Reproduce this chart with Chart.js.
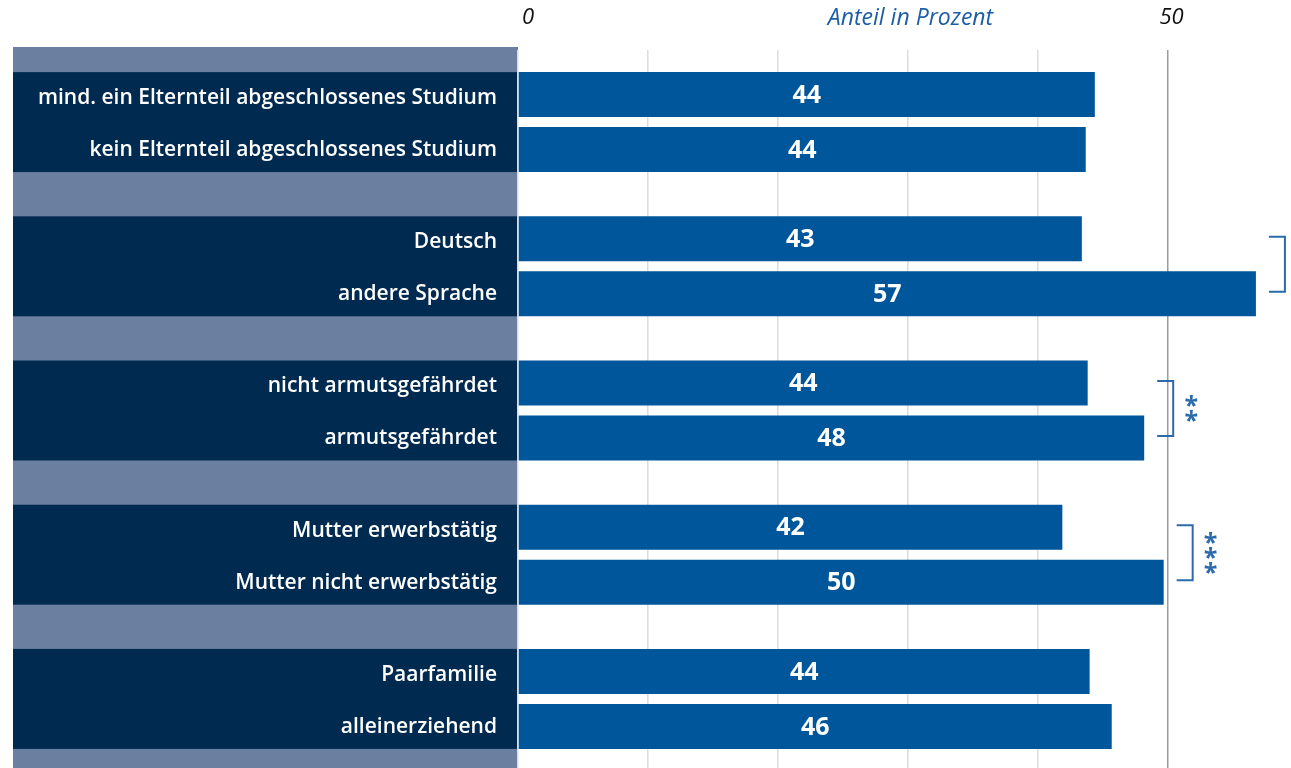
<!DOCTYPE html>
<html>
<head>
<meta charset="utf-8">
<script src="https://cdn.jsdelivr.net/npm/chart.js@4/dist/chart.umd.min.js"></script>
<style>
  html, body { margin: 0; padding: 0; background: #fff; overflow: hidden; }
  canvas { display: block; }
</style>
</head>
<body>
<canvas id="chart" width="1291" height="771"></canvas>
<script>
// two rows per group
const firstLabels = ['mind. ein Elternteil abgeschlossenes Studium', 'Deutsch', 'nicht armutsgefährdet', 'Mutter erwerbstätig', 'Paarfamilie'];
const secondLabels = ['kein Elternteil abgeschlossenes Studium', 'andere Sprache', 'armutsgefährdet', 'Mutter nicht erwerbstätig', 'alleinerziehend'];
const firstValues = [44.4, 43.4, 43.85, 41.9, 44.0];
const secondValues = [43.7, 56.8, 48.2, 49.7, 45.7];
// null = no bracket, otherwise the stars shown next to it
const significance = [null, '', '**', '***', null];
const tickValues = [0, 10, 20, 30, 40, 50];
const shownTicks = ['0', '50'];
const axisTitle = 'Anteil in Prozent';

const BAR = '#00569a';
const NAVY = '#002a50';
const GREYBLUE = '#6b7fa1';
const SIGBLUE = '#2b6bab';

Chart.defaults.font.family = "'Open Sans', sans-serif";

const panelPlugin = {
  id: 'panel',
  beforeDraw(chart) {
    const ctx = chart.ctx;
    const y = chart.scales.y;
    const area = chart.chartArea;
    ctx.save();
    ctx.fillStyle = GREYBLUE;
    ctx.fillRect(y.left, area.top - 3, y.right - y.left, area.bottom - area.top + 3);
    const m0 = chart.getDatasetMeta(0), m1 = chart.getDatasetMeta(1);
    ctx.fillStyle = NAVY;
    m0.data.forEach((b0, i) => {
      const b1 = m1.data[i];
      const top = b0.y - b0.height / 2;
      const bottom = b1.y + b1.height / 2;
      ctx.fillRect(y.left, top, y.right - y.left, bottom - top);
    });
    ctx.restore();
  }
};

const labelPlugin = {
  id: 'labels',
  afterDatasetsDraw(chart) {
    const ctx = chart.ctx;
    ctx.save();
    ctx.fillStyle = '#fff';
    ctx.font = "bold 25px 'Open Sans'";
    ctx.textAlign = 'center';
    ctx.textBaseline = 'middle';
    chart.data.datasets.forEach((ds, d) => {
      chart.getDatasetMeta(d).data.forEach((bar, i) => {
        ctx.fillText(String(Math.round(ds.data[i])), (bar.base + bar.x) / 2, bar.y + 1);
      });
    });
    ctx.restore();
  },
  afterDraw(chart) {
    const ctx = chart.ctx;
    const x = chart.scales.x;
    const area = chart.chartArea;
    ctx.save();
    // top axis text
    ctx.font = "italic 22px 'Open Sans'";
    ctx.textBaseline = 'middle';
    ctx.textAlign = 'center';
    ctx.fillStyle = '#111';
    ctx.fillText(shownTicks[0], x.getPixelForValue(0) + 10, 18);
    ctx.fillText(shownTicks[1], x.getPixelForValue(50) + 4, 18);
    ctx.font = "italic 23px 'Open Sans'";
    ctx.fillStyle = '#1c5ea6';
    ctx.fillText(axisTitle, (area.left + area.right) / 2 + 6, 18);

    // significance brackets
    const m0 = chart.getDatasetMeta(0), m1 = chart.getDatasetMeta(1);
    significance.forEach((sig, i) => {
      if (sig === null) return;
      const b0 = m0.data[i], b1 = m1.data[i];
      const xl = Math.max(b0.x, b1.x) + 13;
      const xr = xl + 16;
      const yt = b0.y - 2, yb = b1.y - 2;
      ctx.strokeStyle = SIGBLUE;
      ctx.lineWidth = 2;
      ctx.beginPath();
      ctx.moveTo(xl, yt);
      ctx.lineTo(xr, yt);
      ctx.lineTo(xr, yb);
      ctx.lineTo(xl, yb);
      ctx.stroke();
      if (!sig) return;
      ctx.fillStyle = SIGBLUE;
      ctx.font = "bold 25px 'Open Sans'";
      ctx.textAlign = 'center';
      ctx.textBaseline = 'alphabetic';
      const mt = ctx.measureText('*');
      const shift = (mt.actualBoundingBoxAscent - mt.actualBoundingBoxDescent) / 2;
      const mid = (yt + yb) / 2;
      const step = 15;
      for (let k = 0; k < sig.length; k++) {
        const cy = mid + (k - (sig.length - 1) / 2) * step;
        ctx.fillText('*', xr + 18, cy + shift);
      }
    });
    ctx.restore();
  }
};

new Chart(document.getElementById('chart'), {
  type: 'bar',
  data: {
    labels: firstLabels.map((l, i) => [l, secondLabels[i]]),
    datasets: [
      { data: firstValues, backgroundColor: BAR },
      { data: secondValues, backgroundColor: BAR }
    ]
  },
  options: {
    indexAxis: 'y',
    responsive: false,
    animation: false,
    layout: { padding: { left: 13, top: 50, right: 0, bottom: 0 } },
    datasets: { bar: { categoryPercentage: 0.7626, barPercentage: 0.818 } },
    plugins: { legend: { display: false }, tooltip: { enabled: false } },
    scales: {
      x: {
        position: 'top',
        min: 0,
        max: 59.5,
        afterBuildTicks: s => { s.ticks = tickValues.map(v => ({ value: v })); },
        ticks: { display: false },
        grid: {
          drawTicks: false,
          color: c => c.tick && c.tick.value === 50 ? '#9b9b9b' : '#dcdcdc',
          lineWidth: 1.5
        },
        border: { display: false }
      },
      y: {
        afterFit: s => {
          s.width = 505;
          s.paddingTop = 0;
          s.paddingBottom = 0;
        },
        ticks: {
          padding: 21,
          labelOffset: 2,
          color: '#fff',
          font: { size: 21, weight: '600', lineHeight: '52px' }
        },
        grid: { display: false, drawTicks: false },
        border: { display: false }
      }
    }
  },
  plugins: [panelPlugin, labelPlugin]
});
</script>
</body>
</html>
